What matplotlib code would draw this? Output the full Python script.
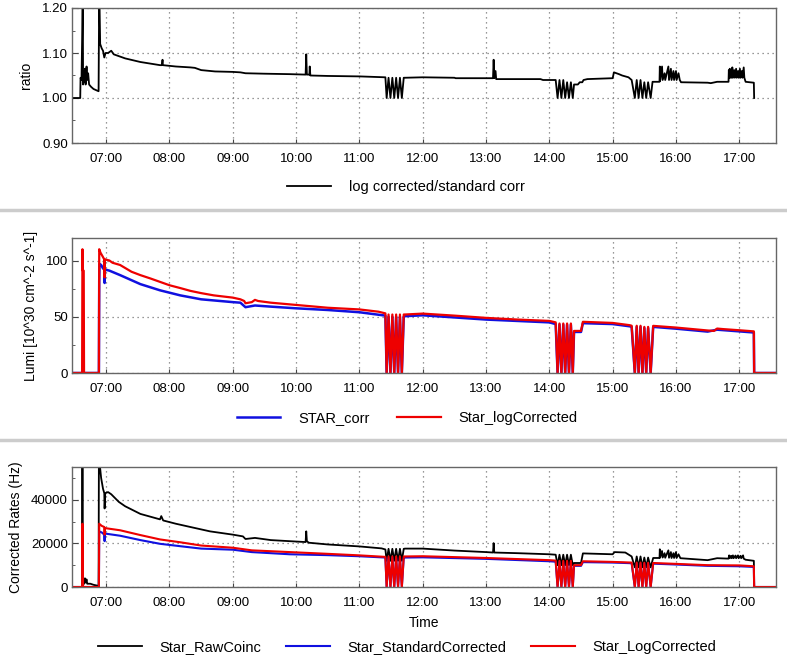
import numpy as np
import matplotlib
matplotlib.use('Agg')
import matplotlib.pyplot as plt
from matplotlib.ticker import MultipleLocator, FuncFormatter

plt.rcParams['font.family'] = ['Liberation Sans', 'DejaVu Sans']
plt.rcParams['font.size'] = 9.5

# time in decimal hours
ratio = [(6.46, 1.00), (6.59, 1.00), (6.595, 1.045), (6.61, 1.04), (6.62, 1.13), (6.63, 1.25),
         (6.635, 1.03), (6.645, 1.06), (6.655, 1.035), (6.665, 1.065), (6.675, 1.03), (6.69, 1.07),
         (6.70, 1.04), (6.715, 1.055), (6.73, 1.03), (6.76, 1.025), (6.80, 1.02), (6.85, 1.017),
         (6.88, 1.015), (6.89, 1.25), (6.905, 1.12), (6.93, 1.11), (6.95, 1.105), (6.97, 1.09),
         (6.99, 1.10), (7.03, 1.10), (7.08, 1.105), (7.12, 1.097), (7.3, 1.088), (7.54, 1.08),
         (7.85, 1.073), (7.88, 1.073), (7.89, 1.085), (7.895, 1.073), (8.1, 1.07), (8.33, 1.068),
         (8.4, 1.067), (8.5, 1.062), (8.72, 1.059), (9.0, 1.058), (9.12, 1.057), (9.2, 1.055),
         (9.5, 1.054), (9.9, 1.053), (10.15, 1.052), (10.16, 1.097), (10.17, 1.052), (10.21, 1.052),
         (10.215, 1.07), (10.225, 1.05), (10.5, 1.049), (11.0, 1.048), (11.41, 1.046),
         (11.43, 1.00), (11.46, 1.045), (11.49, 1.00), (11.52, 1.045), (11.55, 1.00), (11.58, 1.045),
         (11.61, 1.00), (11.64, 1.045), (11.67, 1.00), (11.70, 1.045), (11.72, 1.045),
         (12.0, 1.046), (12.5, 1.045), (12.52, 1.044), (13.11, 1.044), (13.12, 1.085), (13.13, 1.044),
         (13.15, 1.06), (13.16, 1.042), (13.86, 1.042), (13.9, 1.04), (14.1, 1.04),
         (14.13, 1.00), (14.16, 1.04), (14.19, 1.00), (14.22, 1.04), (14.25, 1.00), (14.28, 1.035),
         (14.31, 1.00), (14.34, 1.035), (14.37, 1.00), (14.39, 1.03), (14.45, 1.03), (14.48, 1.035),
         (14.52, 1.035), (14.54, 1.04), (14.6, 1.042), (15.0, 1.044), (15.02, 1.057), (15.1, 1.053),
         (15.15, 1.05), (15.2, 1.048), (15.25, 1.046), (15.3, 1.04),
         (15.35, 1.00), (15.38, 1.04), (15.41, 1.00), (15.44, 1.04), (15.47, 1.00), (15.50, 1.035),
         (15.53, 1.00), (15.56, 1.035), (15.60, 1.00), (15.63, 1.036), (15.74, 1.036),
         (15.745, 1.07), (15.75, 1.038), (15.78, 1.07), (15.79, 1.04), (15.82, 1.055), (15.83, 1.04),
         (15.88, 1.07), (15.89, 1.04), (15.92, 1.065), (15.93, 1.04), (15.96, 1.06), (15.97, 1.04),
         (16.0, 1.06), (16.01, 1.04), (16.04, 1.055), (16.06, 1.04), (16.08, 1.035), (16.5, 1.034),
         (16.55, 1.033), (16.65, 1.036), (16.83, 1.036), (16.835, 1.062), (16.84, 1.045),
         (16.85, 1.065), (16.86, 1.045), (16.87, 1.06), (16.88, 1.045), (16.89, 1.068), (16.9, 1.045),
         (16.92, 1.062), (16.93, 1.045), (16.95, 1.065), (16.96, 1.045), (16.98, 1.06), (16.99, 1.045),
         (17.01, 1.065), (17.02, 1.045), (17.04, 1.06), (17.05, 1.045), (17.07, 1.068), (17.08, 1.045),
         (17.1, 1.036), (17.23, 1.034), (17.235, 1.00)]

lumi_log = [(6.46, 0), (6.62, 0), (6.625, 110), (6.63, 91), (6.645, 91), (6.65, 0), (6.885, 0),
            (6.89, 110), (6.91, 107), (6.95, 103), (6.97, 101), (6.975, 85), (6.98, 101), (7.05, 100),
            (7.1, 98), (7.22, 96), (7.4, 90), (7.54, 87), (7.7, 84), (7.85, 81), (8.0, 78),
            (8.17, 75.5), (8.33, 73), (8.5, 71), (8.7, 69), (9.0, 67), (9.12, 65.5), (9.18, 64),
            (9.2, 62), (9.3, 63), (9.35, 65), (9.4, 64), (9.6, 62.5), (9.9, 61), (10.2, 59.5),
            (10.5, 58), (11.0, 56.5), (11.3, 54.5), (11.41, 53),
            (11.43, 0), (11.46, 52), (11.49, 0), (11.52, 52), (11.55, 0), (11.58, 52), (11.61, 0),
            (11.64, 52), (11.67, 0), (11.70, 52), (11.72, 52), (12.0, 52.8), (12.5, 51), (13.0, 49),
            (13.5, 47.5), (14.0, 46.3), (14.1, 45),
            (14.13, 0), (14.16, 44), (14.19, 0), (14.22, 44), (14.25, 0), (14.28, 44), (14.31, 0),
            (14.34, 44), (14.37, 0), (14.39, 37.4), (14.5, 37.4), (14.53, 45.5), (15.0, 44.5),
            (15.27, 42.5), (15.3, 42),
            (15.35, 0), (15.38, 42), (15.41, 0), (15.44, 42), (15.47, 0), (15.50, 41), (15.53, 0),
            (15.56, 41), (15.60, 0), (15.64, 41.9), (16.0, 40.4), (16.5, 37.8), (16.6, 37.4),
            (16.65, 39.5), (16.75, 39), (17.0, 38), (17.23, 37), (17.235, 0), (17.58, 0)]

lumi_std = [(6.46, 0), (6.885, 0), (6.89, 82), (6.895, 97), (6.92, 96), (6.95, 93), (6.97, 92),
            (6.975, 80), (6.98, 92), (7.05, 91), (7.22, 87), (7.54, 79), (7.85, 73.5), (8.17, 69),
            (8.5, 65.5), (9.0, 63), (9.12, 62.5), (9.2, 58.5), (9.35, 60), (9.6, 59), (10.0, 57.5),
            (10.5, 56), (11.0, 54), (11.41, 51),
            (11.43, 0), (11.46, 50), (11.49, 0), (11.52, 50), (11.55, 0), (11.58, 50), (11.61, 0),
            (11.64, 50), (11.67, 0), (11.70, 50), (11.72, 50.5), (12.0, 51.3), (13.0, 47.5),
            (14.0, 45), (14.1, 43.5),
            (14.13, 0), (14.16, 43), (14.19, 0), (14.22, 43), (14.25, 0), (14.28, 43), (14.31, 0),
            (14.34, 43), (14.37, 0), (14.39, 36.5), (14.5, 36.5), (14.53, 44.3), (15.0, 43.5),
            (15.27, 41.5), (15.3, 41),
            (15.35, 0), (15.38, 41), (15.41, 0), (15.44, 41), (15.47, 0), (15.50, 40), (15.53, 0),
            (15.56, 40), (15.60, 0), (15.64, 41), (16.0, 39.4), (16.5, 36.8), (16.65, 38.5),
            (17.0, 37), (17.23, 36), (17.235, 0), (17.58, 0)]

rate_raw = [(6.46, 0), (6.62, 0), (6.625, 60000), (6.63, 1000), (6.65, 1500), (6.665, 4000),
            (6.675, 2000), (6.69, 3500), (6.70, 1500), (6.75, 1500), (6.8, 1000), (6.88, 500),
            (6.885, 60000), (6.92, 50000), (6.95, 45000), (6.97, 43000), (6.975, 36000),
            (6.985, 43000), (7.03, 43500), (7.08, 42500), (7.2, 39000), (7.3, 37000), (7.54, 33500),
            (7.85, 31000), (7.87, 32500), (7.9, 30500), (8.1, 29000), (8.33, 27500), (8.64, 25500),
            (9.0, 24000), (9.16, 23200), (9.2, 22000), (9.35, 22500), (9.6, 21500), (9.9, 21000),
            (10.15, 20600), (10.16, 25500), (10.17, 21000), (10.2, 20300), (10.5, 19500),
            (11.0, 18600), (11.35, 17700), (11.41, 17200),
            (11.43, 12000), (11.46, 17500), (11.49, 12000), (11.52, 17500), (11.55, 12000),
            (11.58, 17500), (11.61, 12000), (11.64, 17500), (11.67, 12000), (11.70, 17500),
            (11.72, 17600), (12.0, 17600), (12.5, 16700), (13.0, 16000), (13.11, 15800),
            (13.12, 20100), (13.13, 15800), (13.5, 15500), (14.0, 15000), (14.1, 14800),
            (14.13, 10000), (14.16, 14800), (14.19, 10000), (14.22, 14800), (14.25, 10000),
            (14.28, 14800), (14.31, 10000), (14.34, 14800), (14.37, 10000), (14.39, 11000),
            (14.5, 11000), (14.53, 15400), (15.0, 15000), (15.03, 16000), (15.2, 15800),
            (15.3, 14000),
            (15.35, 9000), (15.38, 14000), (15.41, 9000), (15.44, 14000), (15.47, 9000),
            (15.50, 13500), (15.53, 9000), (15.56, 13500), (15.60, 9000), (15.64, 13300),
            (15.74, 13300), (15.745, 17300), (15.75, 13500), (15.78, 16500), (15.79, 13500),
            (15.82, 15500), (15.83, 13400), (15.88, 16800), (15.89, 13400), (15.92, 16000),
            (15.93, 13300), (15.96, 15500), (15.97, 13300), (16.0, 16000), (16.01, 13300),
            (16.04, 15000), (16.07, 13200), (16.5, 12300), (16.65, 13200), (16.83, 13000),
            (16.84, 14500), (16.85, 13200), (16.87, 14300), (16.88, 13200), (16.9, 14500),
            (16.91, 13200), (16.94, 14400), (16.95, 13200), (16.98, 14500), (16.99, 13200),
            (17.02, 14300), (17.03, 13200), (17.06, 14500), (17.07, 13000), (17.1, 12500),
            (17.23, 12000), (17.235, 0), (17.58, 0)]

rate_std = [(6.46, 0), (6.885, 0), (6.89, 25500), (6.93, 25000), (6.97, 24000), (6.975, 21000),
            (6.98, 24500), (7.22, 23500), (7.54, 21500), (7.85, 19800), (8.17, 18700), (8.5, 17600),
            (9.0, 17100), (9.3, 16000), (9.9, 15000), (10.5, 14600), (11.0, 14100), (11.41, 13500),
            (11.43, 0), (11.46, 13500), (11.49, 0), (11.52, 13500), (11.55, 0), (11.58, 13500),
            (11.61, 0), (11.64, 13500), (11.67, 0), (11.70, 13500), (11.72, 13500), (12.0, 13600),
            (13.0, 12900), (14.0, 11800), (14.1, 11600),
            (14.13, 0), (14.16, 11500), (14.19, 0), (14.22, 11500), (14.25, 0), (14.28, 11500),
            (14.31, 0), (14.34, 11500), (14.37, 0), (14.39, 9700), (14.5, 9700), (14.53, 11400),
            (15.0, 11200), (15.3, 10900),
            (15.35, 0), (15.38, 10800), (15.41, 0), (15.44, 10800), (15.47, 0), (15.50, 10800),
            (15.53, 0), (15.56, 10800), (15.60, 0), (15.64, 10700), (16.0, 10300), (16.5, 9700),
            (17.0, 9500), (17.23, 9200), (17.235, 0), (17.58, 0)]

rate_log = [(6.46, 0), (6.62, 0), (6.625, 29000), (6.635, 0), (6.885, 0), (6.89, 29000),
            (6.93, 28000), (6.97, 27500), (6.975, 24000), (6.98, 27000), (7.22, 26000),
            (7.54, 23800), (7.85, 21800), (8.17, 20500), (8.5, 19000), (9.0, 18000), (9.3, 16800),
            (9.9, 16000), (10.5, 15200), (11.0, 14500), (11.41, 13800),
            (11.43, 0), (11.46, 14000), (11.49, 0), (11.52, 14000), (11.55, 0), (11.58, 14000),
            (11.61, 0), (11.64, 14000), (11.67, 0), (11.70, 14000), (11.72, 14000), (12.0, 14100),
            (13.0, 13300), (14.0, 12300), (14.1, 12100),
            (14.13, 0), (14.16, 12000), (14.19, 0), (14.22, 12000), (14.25, 0), (14.28, 12000),
            (14.31, 0), (14.34, 12000), (14.37, 0), (14.39, 10000), (14.5, 10000), (14.53, 11800),
            (15.0, 11500), (15.3, 11200),
            (15.35, 0), (15.38, 11200), (15.41, 0), (15.44, 11200), (15.47, 0), (15.50, 11100),
            (15.53, 0), (15.56, 11100), (15.60, 0), (15.64, 11000), (16.0, 10600), (16.5, 10000),
            (17.0, 9900), (17.23, 9500), (17.235, 0), (17.58, 0)]


def hhmm(h, pos):
    hh = int(h)
    mm = int(round((h - hh) * 60))
    return '%02d:%02d' % (hh, mm)


def style_axes(ax, ylim, major, minor):
    ax.set_xlim(6.46, 17.58)
    ax.set_ylim(*ylim)
    ax.xaxis.set_major_locator(MultipleLocator(1))
    ax.xaxis.set_major_formatter(FuncFormatter(hhmm))
    ax.yaxis.set_major_locator(MultipleLocator(major))
    ax.yaxis.set_minor_locator(MultipleLocator(minor))
    ax.tick_params(which='both', direction='in', color='#444444')
    ax.tick_params(axis='x', length=3, pad=7)
    ax.tick_params(axis='y', which='major', length=4, pad=3)
    ax.tick_params(axis='y', which='minor', length=2)
    ax.grid(True, which='major', ls=(0, (1, 3)), color='#777777', lw=0.9)
    for s in ax.spines.values():
        s.set_color('#666666')
        s.set_linewidth(1.0)


def xy(series):
    a = np.array(series, dtype=float)
    return a[:, 0], a[:, 1]


def main():
    f = plt.figure(figsize=(7.87, 6.6), dpi=100)
    W, H = 787., 660.

    ax1 = f.add_axes([72/W, 1-143/H, 704/W, 135/H])
    ax2 = f.add_axes([72/W, 1-373/H, 704/W, 135/H])
    ax3 = f.add_axes([72/W, 1-587/H, 704/W, 120/H])

    t, v = xy(ratio)
    ax1.plot(t, v, color='black', lw=1.3, label='log corrected/standard corr')
    style_axes(ax1, (0.90, 1.20), 0.10, 0.05)
    ax1.yaxis.set_major_formatter(FuncFormatter(lambda y, p: '%.2f' % y))
    ax1.set_ylabel('ratio', fontsize=10)
    ax1.yaxis.set_label_coords(-0.055, 0.5)

    t, v = xy(lumi_std)
    ax2.plot(t, v, color='#1010e0', lw=1.8, label='STAR_corr')
    t, v = xy(lumi_log)
    ax2.plot(t, v, color='#ee0000', lw=1.6, label='Star_logCorrected')
    style_axes(ax2, (0, 120), 50, 25)
    ax2.set_ylabel('Lumi [10^30 cm^-2 s^-1]', fontsize=10)
    ax2.yaxis.set_label_coords(-0.048, 0.5)

    t, v = xy(rate_raw)
    ax3.plot(t, v, color='black', lw=1.3, label='Star_RawCoinc')
    t, v = xy(rate_std)
    ax3.plot(t, v, color='#1010e0', lw=1.5, label='Star_StandardCorrected')
    t, v = xy(rate_log)
    ax3.plot(t, v, color='#ee0000', lw=1.5, label='Star_LogCorrected')
    style_axes(ax3, (0, 55000), 20000, 10000)
    ax3.set_ylabel('Corrected Rates (Hz)', fontsize=10)
    ax3.yaxis.set_label_coords(-0.070, 0.5)
    ax3.set_xlabel('Time', fontsize=10, labelpad=5)

    leg = dict(loc='center', frameon=False, handlelength=3.0, handletextpad=1.2,
               fontsize=10.5)
    f.legend(*ax1.get_legend_handles_labels(), bbox_to_anchor=(406/W, 1-187/H), **leg)
    f.legend(*ax2.get_legend_handles_labels(), ncol=2, columnspacing=1.9,
             bbox_to_anchor=(407/W, 1-418/H), **leg)
    f.legend(*ax3.get_legend_handles_labels(), ncol=3, columnspacing=1.7,
             bbox_to_anchor=(407/W, 1-647/H), **leg)

    for y in (210, 440):
        f.add_artist(plt.Line2D([0, 1], [1-y/H, 1-y/H], transform=f.transFigure,
                                color='#cccccc', lw=2.5))

    plt.savefig('out.png', dpi=100)


if __name__ == '__main__':
    main()
